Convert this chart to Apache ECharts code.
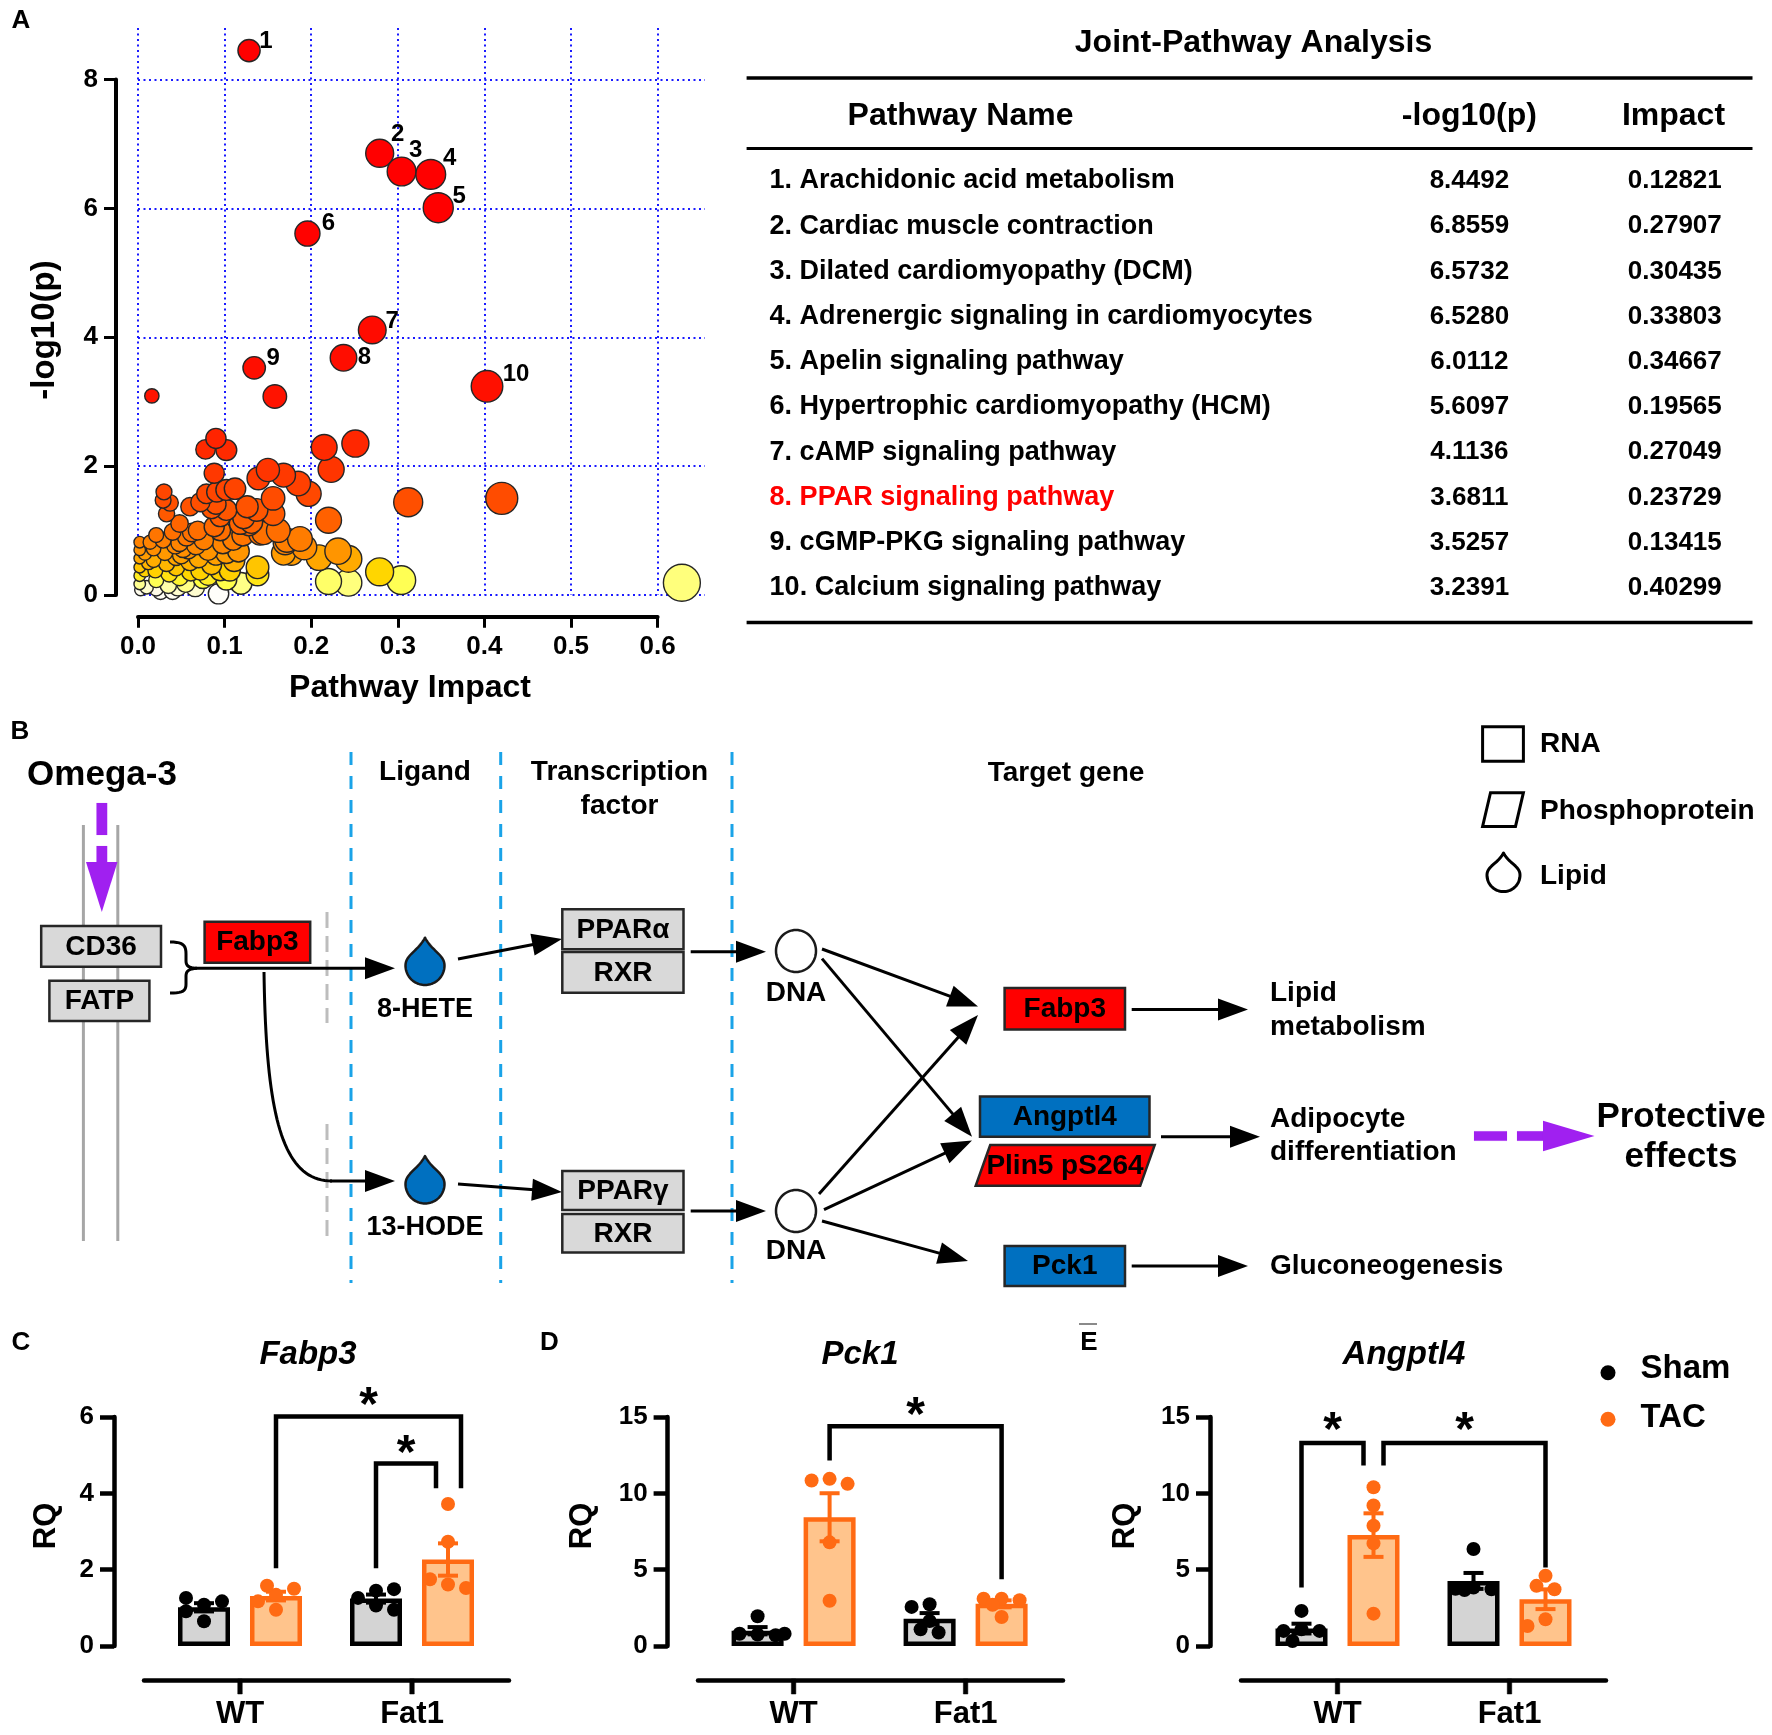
<!DOCTYPE html>
<html>
<head>
<meta charset="utf-8">
<title>Joint-Pathway Analysis and PPAR signaling</title>
<script src="https://cdn.jsdelivr.net/npm/echarts@6.0.0/dist/echarts.min.js"></script>
<style>
html,body{margin:0;padding:0;background:#ffffff;}
#chart{width:1772px;height:1735px;}
</style>
</head>
<body>
<div id="chart"></div>
<script>
// ================= DATA =================
// Panel A: top-10 pathways (table + labelled bubbles)
const pathwayNames = [
  'Arachidonic acid metabolism','Cardiac muscle contraction','Dilated cardiomyopathy (DCM)',
  'Adrenergic signaling in cardiomyocytes','Apelin signaling pathway','Hypertrophic cardiomyopathy (HCM)',
  'cAMP signaling pathway','PPAR signaling pathway','cGMP-PKG signaling pathway','Calcium signaling pathway'];
const pathwayLogP = [8.4492,6.8559,6.5732,6.5280,6.0112,5.6097,4.1136,3.6811,3.5257,3.2391];
const pathwayImpact = [0.12821,0.27907,0.30435,0.33803,0.34667,0.19565,0.27049,0.23729,0.13415,0.40299];
const highlightedPathway = 8;

// Panel A: remaining pathways
const otherImpact = [0.016,0.158,0.090,0.078,0.102,0.088,0.215,0.251,0.223,0.150,0.139,0.168,0.185,0.197,0.312,0.420,0.220,0.030,0.029,0.037,0.033,0.048,0.060,0.072,0.079,0.091,0.102,0.112,0.102,0.126,0.137,0.156,0.156,0.095,0.118,0.141,0.131,0.085,0.090,0.095,0.069,0.088,0.122,0.128,0.121,0.145,0.162,0.170,0.187,0.192,0.177,0.168,0.209,0.231,0.243,0.172,0.279,0.304,0.220,0.243,0.138,0.138,0.119,0.093,0.102,0.081,0.066,0.102,0.116,0.048,0.628,
  0.002,0.002,0.002,0.002,0.002,0.002,0.003,0.008,0.008,0.010,0.018,0.018,0.020,0.021,0.021,0.029,0.031,0.033,0.036,0.035,0.043,0.044,0.044,0.048,0.046,0.056,0.058,0.060,0.061,0.067,0.070,0.072,0.081,0.085,0.090,0.095,0.106,0.111,0.021,0.014,0.012,0.026,0.040,0.055,0.050,0.075,0.062,0.040,0.076,0.098,0.110,0.052];
const otherLogP = [3.09,3.08,2.43,2.26,2.25,1.89,2.29,2.35,1.95,1.94,1.81,1.86,1.73,1.57,1.44,1.50,1.16,1.60,1.47,1.43,1.26,1.11,1.37,1.44,1.57,1.60,1.63,1.65,1.32,1.37,1.32,1.26,1.50,1.00,1.11,0.95,1.13,1.34,1.41,1.22,1.00,1.06,1.20,1.09,0.93,0.96,1.00,0.81,0.87,0.74,0.65,0.65,0.58,0.68,0.56,0.85,0.36,0.23,0.21,0.19,0.32,0.43,0.18,0.02,0.24,0.30,0.12,0.65,0.68,0.81,0.19,
  0.82,0.70,0.57,0.43,0.30,0.17,0.08,0.64,0.38,0.12,0.72,0.54,0.38,0.23,0.10,0.85,0.66,0.49,0.33,0.15,0.77,0.59,0.43,0.28,0.12,0.90,0.70,0.52,0.36,0.77,0.57,0.38,0.69,0.47,0.62,0.38,0.38,0.53,0.93,0.82,0.50,0.05,0.06,0.18,0.62,0.25,0.97,0.98,0.85,0.80,0.86,0.72];

// Panels C-E: qPCR RQ values (5 mice per group), [WT, Fat1]
const genotypes = ['WT','Fat1'];
const conditions = ['Sham','TAC'];
const fabp3Sham   = [[1.08,1.26,0.91,1.17,0.65],[1.45,1.26,1.49,1.06,0.95]];
const fabp3TAC    = [[1.34,1.58,1.17,1.50,0.95],[3.72,2.73,1.61,1.75,1.52]];
const pck1Sham    = [[1.95,0.75,0.80,0.70,0.80],[2.73,2.56,1.64,1.09,0.88]];
const pck1TAC     = [[10.95,10.84,10.62,6.79,2.96],[3.10,3.10,3.00,2.70,1.90]];
const angptl4Sham = [[2.30,1.09,0.99,0.99,0.33],[6.35,3.83,3.75,3.72,3.66]];
const angptl4TAC  = [[10.40,9.20,7.88,6.72,2.12],[4.60,3.94,3.72,1.75,1.31]];
// significance brackets: [genoA, condA, genoB, condB, top, bottomA, bottomB, star]
const fabp3Sig   = [[0,1,1,1,6.01,2.04,4.13,6.52],[1,0,1,1,4.78,2.04,4.13,5.26]];
const pck1Sig    = [[0,1,1,1,14.39,12.15,4.38,15.66]];
const angptl4Sig = [[0,0,0,1,13.29,3.83,11.82,14.67],[0,1,1,1,13.29,11.82,5.15,14.67]];

// ================= STYLE / LAYOUT =================
const F = '"Liberation Sans", Arial, Helvetica, sans-serif';
const heatStops = [[0,'#ffffff'],[0.1,'#fffce8'],[0.17,'#ffff90'],[0.25,'#ffff40'],[0.36,'#ffd600'],[0.5,'#ffb400'],[0.7,'#ff9200'],[0.95,'#ff7200'],[1.25,'#ff5a00'],[1.6,'#ff4600'],[2.0,'#ff3200'],[2.5,'#ff2200'],[3.2,'#ff1000'],[6,'#ff0000']];
function hexToRgb(h){return [parseInt(h.slice(1,3),16),parseInt(h.slice(3,5),16),parseInt(h.slice(5,7),16)];}
function heatColor(v){
  if(v<=heatStops[0][0]) return heatStops[0][1];
  for(let i=1;i<heatStops.length;i++){
    if(v<=heatStops[i][0]){
      const a=heatStops[i-1][0], b=heatStops[i][0], t=(v-a)/(b-a);
      const A=hexToRgb(heatStops[i-1][1]), B=hexToRgb(heatStops[i][1]);
      return 'rgb('+A.map((x,k)=>Math.round(x+(B[k]-x)*t)).join(',')+')';
    }
  }
  return heatStops[heatStops.length-1][1];
}
const bubbleSize = v => 10 + 34*Math.sqrt(Math.max(v[0],0));
const labelOffsets = [[17,-9],[18,-19],[14,-21],[19,-16],[21,-11],[21,-10],[20,-9],[21,0],[19,-9],[29,-12]];

const GROUP_DX = 36;
const BAR_TOP = 1417, BAR_H = 229, BAR_W = 344, XLINE_Y = 1680;
const SHAM_FILL='#d4d4d4', SHAM_LINE='#000000', TAC_FILL='#ffc48c', TAC_LINE='#ff6a13';
const panelLayout = [
  {gridLeft:154,   yOff:40,   lineLeft:144,  rqX:46.5, titleX:308,  letter:'C', letterX:21},
  {gridLeft:707.6, yOff:40,   lineLeft:698,  rqX:582,  titleX:860,  letter:'D', letterX:549.5},
  {gridLeft:1251.5,yOff:41.5, lineLeft:1241, rqX:1125, titleX:1404, letter:'E', letterX:1089}
];
const legShifts = [[[0,13],[0,-12]], [[0,0]], [[0,-10],[10,0]]];

const panels = [
  {title:'Fabp3',   sham:fabp3Sham,   tac:fabp3TAC,   sig:fabp3Sig,   yMax:6,  yStep:2},
  {title:'Pck1',    sham:pck1Sham,    tac:pck1TAC,    sig:pck1Sig,    yMax:15, yStep:5},
  {title:'Angptl4', sham:angptl4Sham, tac:angptl4TAC, sig:angptl4Sig, yMax:15, yStep:5}
];

const mean = a => a.reduce((s,v)=>s+v,0)/a.length;
const sem = a => { const m=mean(a); return Math.sqrt(a.reduce((s,v)=>s+(v-m)*(v-m),0)/(a.length-1))/Math.sqrt(a.length); };
function swarm(vals, ppu){
  const placed=[], out=[], cands=[0,-9,9,-18,18,-27,27];
  vals.forEach(v=>{
    const py=v*ppu; let best=0, bestD=-1;
    for(const c of cands){
      let md=Infinity; placed.forEach(p=>{const d=Math.hypot(p[0]-c,p[1]-py); if(d<md) md=d;});
      if(md>=12){best=c; bestD=md; break;}
      if(md>bestD){bestD=md; best=c;}
    }
    placed.push([best,py]); out.push(best);
  });
  return out;
}

// ================= BUILD OPTION =================
const grids=[], xAxes=[], yAxes=[], series=[], G=[];
const axisTxt = {color:'#000', fontFamily:F, fontWeight:'bold'};

// --- Panel A grids ---
grids.push({left:138, top:28, width:567, height:567});          // 0 main
grids.push({left:116, top:79.6, width:1, height:515.4});         // 1 y axis line
grids.push({left:138, top:600, width:519.6, height:16.7});       // 2 x axis line
xAxes.push({gridIndex:0, type:'value', min:0, max:0.6547, interval:0.1,
  axisLine:{show:false}, axisTick:{show:false}, axisLabel:{show:false},
  splitLine:{show:true, showMaxLine:false, lineStyle:{color:'#1a1aff', width:2, type:[2,3.5]}}});
yAxes.push({gridIndex:0, type:'value', min:0, max:8.8, interval:2,
  axisLine:{show:false}, axisTick:{show:false}, axisLabel:{show:false},
  splitLine:{show:true, showMaxLine:false, lineStyle:{color:'#1a1aff', width:2, type:[2,3.5]}}});
xAxes.push({gridIndex:1, type:'value', show:false, min:0, max:1});
yAxes.push({gridIndex:1, type:'value', min:0, max:8, interval:2, position:'left',
  axisLine:{show:true, lineStyle:{color:'#000', width:4}},
  axisTick:{show:true, length:12, lineStyle:{color:'#000', width:3}},
  axisLabel:Object.assign({fontSize:26, margin:18}, axisTxt),
  splitLine:{show:false}});
xAxes.push({gridIndex:2, type:'value', min:0, max:0.6, interval:0.1, position:'bottom',
  axisLine:{show:true, lineStyle:{color:'#000', width:4}},
  axisTick:{show:true, length:11, lineStyle:{color:'#000', width:3}},
  axisLabel:Object.assign({fontSize:26, margin:17, formatter:v=>v.toFixed(1)}, axisTxt),
  splitLine:{show:false}});
yAxes.push({gridIndex:2, type:'value', show:false, min:0, max:1});

const others = otherImpact.map((x,i)=>[x, otherLogP[i]]).sort((a,b)=>a[1]-b[1]);
series.push({type:'scatter', xAxisIndex:0, yAxisIndex:0, data:others, symbolSize:bubbleSize, clip:false, silent:true, z:3,
  itemStyle:{color:p=>heatColor(p.value[1]), borderColor:'#262626', borderWidth:1.4, opacity:1}});
series.push({type:'scatter', xAxisIndex:0, yAxisIndex:0, clip:false, silent:true, z:4,
  data:pathwayImpact.map((x,i)=>({value:[x, pathwayLogP[i]], label:{offset:labelOffsets[i]}})),
  symbolSize:bubbleSize,
  itemStyle:{color:p=>heatColor(p.value[1]), borderColor:'#262626', borderWidth:1.4, opacity:1},
  label:{show:true, position:'inside', formatter:p=>String(p.dataIndex+1), fontSize:24, fontWeight:'bold', color:'#000', fontFamily:F}});

// --- Panels C-E ---
panels.forEach((P, i)=>{
  const L = panelLayout[i];
  const ppu = BAR_H / P.yMax;
  const gBar = grids.length; grids.push({left:L.gridLeft, top:BAR_TOP, width:BAR_W, height:BAR_H});
  const gTick = grids.length; grids.push({left:L.gridLeft, top:BAR_TOP, width:BAR_W, height:XLINE_Y-BAR_TOP});
  const gLine = grids.length; grids.push({left:L.lineLeft, top:BAR_TOP, width:365, height:XLINE_Y-BAR_TOP});
  const xi = xAxes.length, yi = yAxes.length;
  xAxes.push({gridIndex:gBar, type:'category', data:genotypes, show:false});
  yAxes.push({gridIndex:gBar, type:'value', min:0, max:P.yMax, interval:P.yStep, position:'left', offset:L.yOff,
    axisLine:{show:true, lineStyle:{color:'#000', width:4.5}},
    axisTick:{show:true, length:14, lineStyle:{color:'#000', width:4.5}},
    axisLabel:Object.assign({fontSize:26, margin:20}, axisTxt), splitLine:{show:false}});
  xAxes.push({gridIndex:gTick, type:'category', data:genotypes, position:'bottom',
    axisLine:{show:false}, axisTick:{show:false},
    axisLabel:Object.assign({fontSize:31, margin:19}, axisTxt), splitLine:{show:false}});
  yAxes.push({gridIndex:gTick, type:'value', show:false, min:0, max:1});
  xAxes.push({gridIndex:gLine, type:'value', min:0, max:1, position:'bottom',
    axisLine:{show:true, lineStyle:{color:'#000', width:4.5}}, axisTick:{show:false}, axisLabel:{show:false}, splitLine:{show:false}});
  yAxes.push({gridIndex:gLine, type:'value', show:false, min:0, max:1});
  // genotype ticks at the category band centres, hanging below the detached x-axis line
  genotypes.forEach((g,k)=>{
    const cx = L.gridLeft + BAR_W*(k+0.5)/genotypes.length;
    G.push({type:'rect', z:30, shape:{x:cx-2.25, y:XLINE_Y-1, width:4.5, height:15}, style:{fill:'#000', stroke:'#000', lineWidth:0.5}});
  });

  const groupsSets = [P.sham, P.tac];
  const fills = [SHAM_FILL, TAC_FILL], lines = [SHAM_LINE, TAC_LINE], dotCol = ['#000000', TAC_LINE];
  groupsSets.forEach((set, c)=>{
    series.push({type:'bar', name:conditions[c], xAxisIndex:xi, yAxisIndex:yi, silent:true, z:2,
      data:set.map(g=>mean(g)), barWidth:52, barGap:'38.46%',
      itemStyle:{color:fills[c], borderColor:lines[c], borderWidth:4.5}});
  });
  groupsSets.forEach((set, c)=>{
    const sign = c===0?-1:1;
    series.push({type:'custom', xAxisIndex:xi, yAxisIndex:yi, silent:true, clip:false, z:3,
      encode:{x:0, y:1},
      data:set.map((g,k)=>[k, mean(g), sem(g)]),
      renderItem:(params, api)=>{
        const k=api.value(0), m=api.value(1), s=api.value(2);
        const t=api.coord([k, m+s]), b=api.coord([k, m-s]);
        const x=t[0]+sign*GROUP_DX, col=lines[c];
        const st={stroke:col, lineWidth:4};
        return {type:'group', children:[
          {type:'line', shape:{x1:x,y1:t[1],x2:x,y2:b[1]}, style:st},
          {type:'line', shape:{x1:x-10,y1:t[1],x2:x+10,y2:t[1]}, style:st},
          {type:'line', shape:{x1:x-10,y1:b[1],x2:x+10,y2:b[1]}, style:st}]};
      }});
  });
  groupsSets.forEach((set, c)=>{
    const sign = c===0?-1:1;
    const pts=[];
    set.forEach((g,k)=>{ const j=swarm(g, ppu); g.forEach((v,n)=>pts.push([k, v, j[n]])); });
    series.push({type:'custom', name:conditions[c], xAxisIndex:xi, yAxisIndex:yi, silent:true, clip:false, z:4,
      encode:{x:0, y:1}, data:pts,
      renderItem:(params, api)=>{
        const p=api.coord([api.value(0), api.value(1)]);
        return {type:'circle', shape:{cx:p[0]+sign*GROUP_DX+api.value(2), cy:p[1], r:7}, style:{fill:dotCol[c]}};
      }});
  });
  const shifts = legShifts[i];
  series.push({type:'custom', xAxisIndex:xi, yAxisIndex:yi, silent:true, clip:false, z:5,
    encode:{x:0, y:4}, data:P.sig,
    renderItem:(params, api)=>{
      const aC=api.value(0), aS=api.value(1), bC=api.value(2), bS=api.value(3);
      const top=api.value(4), aB=api.value(5), bB=api.value(6), star=api.value(7);
      const sh=shifts[params.dataIndex];
      const xa=api.coord([aC, top])[0]+(aS?1:-1)*GROUP_DX+sh[0];
      const xb=api.coord([bC, top])[0]+(bS?1:-1)*GROUP_DX+sh[1];
      const yt=api.coord([aC, top])[1], ya=api.coord([aC, aB])[1], yb=api.coord([bC, bB])[1], ys=api.coord([aC, star])[1];
      return {type:'group', children:[
        {type:'polyline', shape:{points:[[xa,ya],[xa,yt],[xb,yt],[xb,yb]]}, style:{stroke:'#000', lineWidth:4.5, fill:null}},
        {type:'text', x:(xa+xb)/2, y:ys+10, style:{text:'*', font:'bold 48px '+F, fill:'#000', align:'center', verticalAlign:'middle'}}]};
    }});
  G.push({type:'text', x:L.titleX, y:1355, style:{text:P.title, font:'italic bold 33px '+F, fill:'#000', align:'center', verticalAlign:'middle'}});
  G.push({type:'text', x:L.letterX, y:1343, style:{text:L.letter, font:'bold 26px '+F, fill:'#000', align:'center', verticalAlign:'middle'}});
  G.push({type:'text', x:L.rqX, y:1526, rotation:Math.PI/2, style:{text:'RQ', font:'bold 31px '+F, fill:'#000', align:'center', verticalAlign:'middle'}});
});

// ================= GRAPHIC HELPERS =================
function txt(x,y,s,font,align,fill){ G.push({type:'text', x, y, z:20, style:{text:s, font:font||('bold 28px '+F), fill:fill||'#000', align:align||'center', verticalAlign:'middle'}}); }
function ln(x1,y1,x2,y2,stroke,w,dash){ G.push({type:'line', z:10, shape:{x1,y1,x2,y2}, style:{stroke:stroke||'#000', lineWidth:w||3, lineDash:dash||null}}); }
function box(x,y,w,h,fill,stroke,lw){ G.push({type:'rect', z:12, shape:{x,y,width:w,height:h}, style:{fill:fill, stroke:stroke||'#262626', lineWidth:lw||2.5}}); }
function poly(points,fill,stroke,lw){ G.push({type:'polygon', z:12, shape:{points}, style:{fill:fill, stroke:stroke||null, lineWidth:lw||0}}); }
function pline(points,stroke,lw,z){ G.push({type:'polyline', z:z||11, shape:{points}, style:{fill:null, stroke:stroke||'#000', lineWidth:lw||3}}); }
function cubic(p0,p1,p2,p3,n){
  const out=[]; n=n||24;
  for(let i=0;i<=n;i++){ const t=i/n, u=1-t;
    out.push([u*u*u*p0[0]+3*u*u*t*p1[0]+3*u*t*t*p2[0]+t*t*t*p3[0], u*u*u*p0[1]+3*u*u*t*p1[1]+3*u*t*t*p2[1]+t*t*t*p3[1]]); }
  return out;
}
function arrow(x1,y1,x2,y2,color,w,L,H){
  color=color||'#000'; w=w||3; L=L||30; H=H||11;
  const a=Math.atan2(y2-y1,x2-x1), bx=x2-L*Math.cos(a), by=y2-L*Math.sin(a);
  ln(x1,y1,bx+2*Math.cos(a),by+2*Math.sin(a),color,w);
  poly([[x2,y2],[bx+H*Math.sin(a),by-H*Math.cos(a)],[bx-H*Math.sin(a),by+H*Math.cos(a)]], color);
}
function drop(cx,top,bottom,w,fill,stroke,lw){
  const r=w/2, cc=bottom-r, k=0.552*r, h=bottom-top;
  let pts=[];
  pts=pts.concat(cubic([cx,top],[cx+r*0.35,top+h*0.28],[cx+r,cc-r*0.55],[cx+r,cc]));
  pts=pts.concat(cubic([cx+r,cc],[cx+r,cc+k],[cx+k,cc+r],[cx,cc+r]).slice(1));
  pts=pts.concat(cubic([cx,cc+r],[cx-k,cc+r],[cx-r,cc+k],[cx-r,cc]).slice(1));
  pts=pts.concat(cubic([cx-r,cc],[cx-r,cc-r*0.55],[cx-r*0.35,top+h*0.28],[cx,top]).slice(1));
  G.push({type:'polygon', z:12, shape:{points:pts}, style:{fill:fill, stroke:stroke||'#1a1a1a', lineWidth:lw||2.5, lineJoin:'round'}});
}
function ellipse(cx,cy,rx,ry,fill,stroke,lw){
  const pts=[]; for(let i=0;i<64;i++){const t=i/64*2*Math.PI; pts.push([cx+rx*Math.cos(t), cy+ry*Math.sin(t)]);}
  G.push({type:'polygon', z:12, shape:{points:pts}, style:{fill:fill, stroke:stroke, lineWidth:lw}});
}
const B28 = 'bold 28px '+F;

// ---- Panel letters A, B and panel A axis titles ----
txt(21,21,'A','bold 26px '+F);
txt(20,732,'B','bold 26px '+F);
txt(410,688,'Pathway Impact','bold 32px '+F);
G.push({type:'text', x:45, y:330, rotation:Math.PI/2, z:20, style:{text:'-log10(p)', font:'bold 33px '+F, fill:'#000', align:'center', verticalAlign:'middle'}});

// ---- Table ----
txt(1253.5,43.5,'Joint-Pathway Analysis','bold 32px '+F);
ln(746.6,78,1752.5,78,'#000',3.3);
ln(746.6,148.6,1752.5,148.6,'#000',3);
ln(746.6,622.5,1752.5,622.5,'#000',3.3);
txt(960.5,116,'Pathway Name','bold 32px '+F);
txt(1469.4,116,'-log10(p)','bold 32px '+F);
txt(1673.5,116,'Impact','bold 32px '+F);
pathwayNames.forEach((n,i)=>{
  const y=181+i*45.2;
  const col = (i+1)===highlightedPathway ? '#ff0000' : '#000';
  txt(769.6,y,(i+1)+'. '+n,'bold 27px '+F,'left',col);
  txt(1469.4,y,pathwayLogP[i].toFixed(4),'bold 26px '+F);
  txt(1674.8,y,pathwayImpact[i].toFixed(5),'bold 26px '+F);
});

// ---- Panel B diagram ----
const BLUE_DASH='#1aa3e8';
[351,500.7,732].forEach(x=>ln(x,752,x,1283,BLUE_DASH,3,[13,11]));
ln(83.4,825,83.4,1241,'#a6a6a6',3); ln(117.8,825,117.8,1241,'#a6a6a6',3);
ln(327,912,327,1023,'#bdbdbd',3,[16,8]); ln(327,1124,327,1241,'#bdbdbd',3,[16,8]);
txt(102,775,'Omega-3','bold 35px '+F);
box(96.5,803,10.7,32,'#a020f0','#a020f0',0.1); box(96.5,846,10.7,17,'#a020f0','#a020f0',0.1);
poly([[86,862],[117.5,862],[101.8,912]],'#a020f0');
box(41.2,926,119.8,40.7,'#d9d9d9'); txt(101,947,'CD36',B28);
box(49.4,980.7,100,40.3,'#d9d9d9'); txt(99.4,1001.5,'FATP',B28);
(function(){
  let pts=cubic([170,942],[183,942],[186,945],[186,954],10);
  pts=pts.concat([[186,961]]);
  pts=pts.concat(cubic([186,961],[186,966],[189,968],[197,968.3],8).slice(1));
  pts=pts.concat(cubic([197,968.3],[189,968.6],[186,971],[186,976],8).slice(1));
  pts=pts.concat([[186,984]]);
  pts=pts.concat(cubic([186,984],[186,991],[183,993],[170,993],10).slice(1));
  pline(pts,'#000',3);
})();
arrow(195,968.3,395,968.3);
box(204.6,921.7,105.6,41,'#ff0000'); txt(257.4,942.5,'Fabp3',B28);
pline(cubic([264,972],[266,1115],[282,1181],[332,1181],40),'#000',3,10);
arrow(330,1181,395,1181);
drop(425,937.7,985,39,'#0070c0'); txt(425,1010,'8-HETE','bold 27px '+F);
drop(425,1156,1203.5,39,'#0070c0'); txt(425,1228,'13-HODE','bold 27px '+F);
txt(425,772.7,'Ligand',B28);
txt(619.5,772.7,'Transcription',B28); txt(619.5,806.7,'factor',B28);
txt(1066,772.8,'Target gene',B28);
arrow(458,959,562,939);
arrow(458,1184,562,1192);
box(562.3,909.3,121.2,40,'#d9d9d9'); txt(623,930,'PPARα',B28);
box(562.3,952,121.2,40.7,'#d9d9d9'); txt(623,973,'RXR',B28);
box(562.3,1171,121.2,39,'#d9d9d9'); txt(623,1191,'PPARγ',B28);
box(562.3,1214,121.2,38.5,'#d9d9d9'); txt(623,1234,'RXR',B28);
arrow(690.7,951.7,766,951.7);
arrow(690.7,1211,766,1211);
ellipse(796,951,20,21,'#fff','#1a1a1a',2.5);
ellipse(796,1211,20,21,'#fff','#1a1a1a',2.5);
txt(796,993.5,'DNA',B28); txt(796,1251.7,'DNA',B28);
arrow(822,949,978,1006.5);
arrow(822,958.6,972,1136.8);
arrow(819,1194,978,1015);
arrow(824,1209.6,972,1140.6);
arrow(822,1221,968,1261);
box(1004.6,988,120.4,41.5,'#ff0000'); txt(1064.8,1009.5,'Fabp3',B28);
arrow(1131.7,1009.6,1248,1009.6);
txt(1270,993,'Lipid',B28,'left'); txt(1270,1027.6,'metabolism',B28,'left');
box(980,1096.5,169.5,40.3,'#0070c0'); txt(1064.8,1117,'Angptl4',B28);
poly([[990.2,1145],[1154.7,1145],[1140.2,1185.8],[975.7,1185.8]],'#ff0000','#262626',2.5); txt(1065,1166,'Plin5 pS264',B28);
arrow(1161,1136.8,1260,1136.8);
txt(1270,1119.5,'Adipocyte',B28,'left'); txt(1270,1152,'differentiation',B28,'left');
box(1474,1131.2,33,9.6,'#a020f0','#a020f0',0.1); box(1517,1131.2,26,9.6,'#a020f0','#a020f0',0.1);
poly([[1543,1120.7],[1543,1151.3],[1594.5,1136]],'#a020f0');
txt(1681,1117.6,'Protective','bold 35px '+F); txt(1681,1157.8,'effects','bold 35px '+F);
box(1004.6,1246,120.4,40,'#0070c0'); txt(1064.8,1266.5,'Pck1',B28);
arrow(1131.7,1266,1248,1266);
txt(1270,1266,'Gluconeogenesis',B28,'left');
box(1482.6,726.8,40.8,34.5,'#fff','#000',3); txt(1540,744,'RNA',B28,'left');
poly([[1490.5,792.7],[1523.4,792.7],[1515.5,826.4],[1482.6,826.4]],'#fff','#000',3); txt(1540,811,'Phosphoprotein',B28,'left');
drop(1503.5,853,891.6,33,'#fff','#000',3); txt(1540,876,'Lipid',B28,'left');

// ---- Legend for C-E ----
G.push({type:'circle', z:12, shape:{cx:1608, cy:1372.7, r:7.5}, style:{fill:'#000'}});
txt(1640.5,1369,conditions[0],'bold 33px '+F,'left');
G.push({type:'circle', z:12, shape:{cx:1608, cy:1419.3, r:7.5}, style:{fill:TAC_LINE}});
txt(1640.5,1418,conditions[1],'bold 33px '+F,'left');
ln(1079,1324,1097,1324,'#8a8a8a',2);

grids.forEach(g=>{ g.outerBoundsMode='none'; g.containLabel=false; });

const option = {
  backgroundColor:'#ffffff',
  animation:false,
  textStyle:{fontFamily:F},
  grid:grids, xAxis:xAxes, yAxis:yAxes, series:series,
  graphic:{elements:G}
};
const chart = echarts.init(document.getElementById('chart'), null, {renderer:'canvas', width:1772, height:1735});
chart.setOption(option);
</script>
</body>
</html>
